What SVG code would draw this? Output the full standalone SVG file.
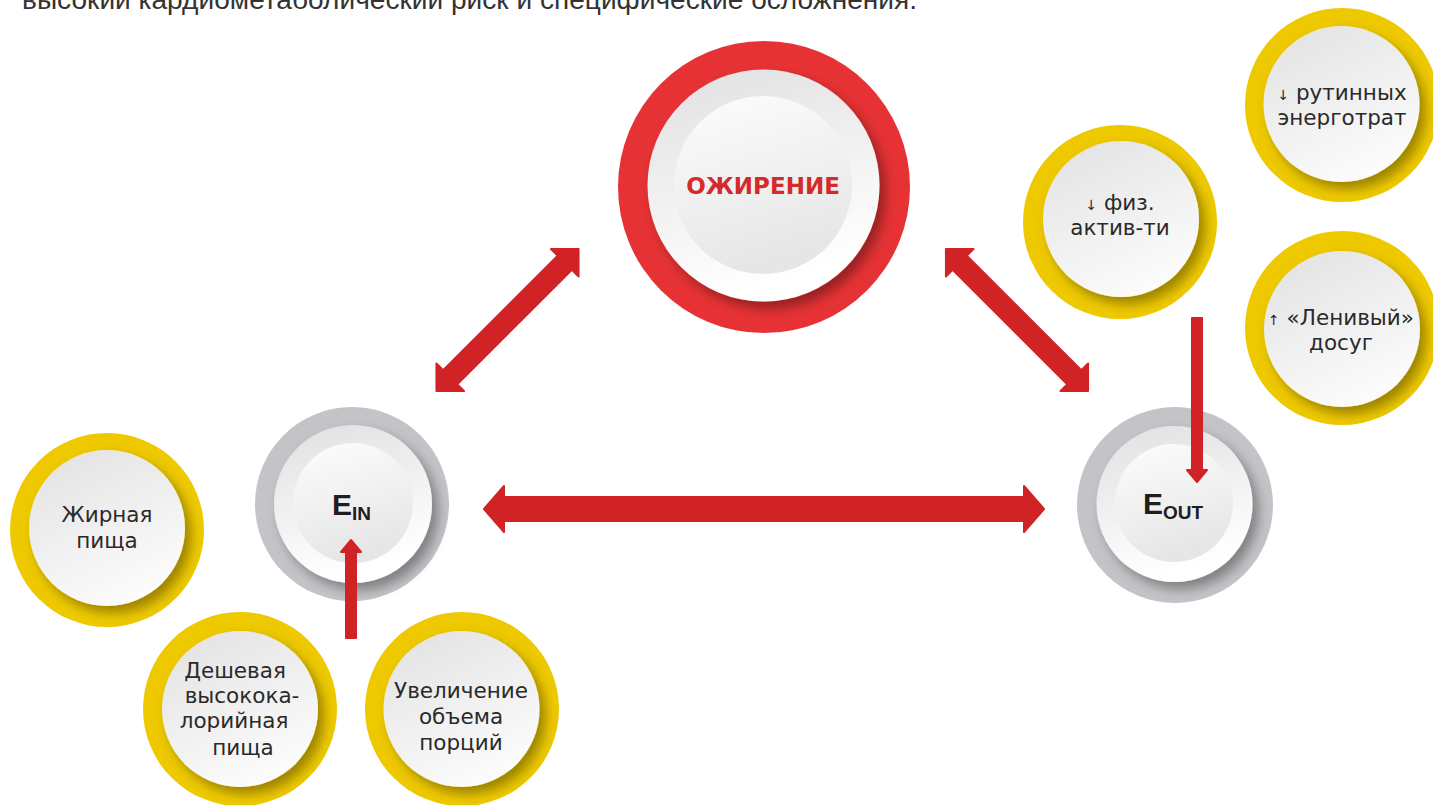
<svg xmlns="http://www.w3.org/2000/svg" width="1433" height="805" viewBox="0 0 1433 805">
<defs>
<style>
.lbl{font-family:"DejaVu Sans","Noto Sans",sans-serif;font-size:21.5px;fill:#2a2a2a;text-anchor:middle}
.sm{font-size:14px}
.arrow{fill:#d12326;stroke:#d12326;stroke-width:2;stroke-linejoin:round}
.yel{fill:#eec900}
.gray{fill:#c4c4c8}
.ebig{font-family:"Liberation Sans","DejaVu Sans",sans-serif;font-weight:bold;fill:#1e1e1e}
</style>
<linearGradient id="ring" x1="0" y1="0" x2="0.3" y2="1">
<stop offset="0" stop-color="#e0e0e0"/><stop offset="1" stop-color="#ffffff"/>
</linearGradient>
<linearGradient id="disc" x1="0" y1="0" x2="0.3" y2="1">
<stop offset="0" stop-color="#fdfdfd"/><stop offset="1" stop-color="#e6e6e6"/>
</linearGradient>
<linearGradient id="ydisc" x1="0.1" y1="0" x2="0.6" y2="1">
<stop offset="0" stop-color="#e2e2e2"/><stop offset="1" stop-color="#fcfcfc"/>
</linearGradient>
<filter id="sh" x="-30%" y="-30%" width="160%" height="160%">
<feDropShadow dx="6" dy="7" stdDeviation="6" flood-color="#000" flood-opacity="0.35"/>
</filter>
</defs>
<rect width="1433" height="805" fill="#ffffff"/>
<text x="22" y="9" font-family="Liberation Sans, Arial, sans-serif" font-size="28" fill="#333" textLength="895" lengthAdjust="spacingAndGlyphs">высокий кардиометаболический риск и специфические осложнения.</text>

<g id="obesity">
<circle cx="764" cy="187" r="146" fill="#e63234"/>
<circle cx="763.5" cy="185.5" r="116" fill="url(#ring)" filter="url(#sh)"/>
<circle cx="763" cy="185" r="89" fill="url(#disc)"/>
<text x="763" y="194" font-family="DejaVu Sans, sans-serif" font-weight="bold" font-size="23" fill="#d42a2a" text-anchor="middle">ОЖИРЕНИЕ</text>
</g>

<g id="ein">
<circle cx="352" cy="504" r="97" class="gray"/>
<circle cx="353" cy="504" r="79" fill="url(#ring)" filter="url(#sh)"/>
<circle cx="353" cy="503" r="60" fill="url(#disc)"/>
<text class="ebig" x="332" y="515" font-size="30">E<tspan font-size="19" dy="5">IN</tspan></text>
</g>

<g id="eout">
<circle cx="1175" cy="505" r="98" class="gray"/>
<circle cx="1174.5" cy="504" r="78" fill="url(#ring)" filter="url(#sh)"/>
<circle cx="1174" cy="503" r="59" fill="url(#disc)"/>
<text class="ebig" x="1143" y="514" font-size="30">E<tspan font-size="19" dy="5">OUT</tspan></text>
</g>

<g id="fatfood">
<circle cx="107" cy="530" r="97" class="yel"/>
<circle cx="107" cy="528" r="78" fill="url(#ydisc)" filter="url(#sh)"/>
<text class="lbl" x="107" y="522">Жирная</text>
<text class="lbl" x="107" y="548">пища</text>
</g>

<g id="cheapfood">
<circle cx="240" cy="709" r="97" class="yel"/>
<circle cx="240" cy="709" r="78" fill="url(#ydisc)" filter="url(#sh)"/>
<text class="lbl" x="235" y="678">Дешевая</text>
<text class="lbl" x="242" y="703">высокока-</text>
<text class="lbl" x="234" y="728">лорийная</text>
<text class="lbl" x="243" y="755">пища</text>
</g>

<g id="portions">
<circle cx="462" cy="709" r="97" class="yel"/>
<circle cx="461.5" cy="709" r="78" fill="url(#ydisc)" filter="url(#sh)"/>
<text class="lbl" x="461" y="698">Увеличение</text>
<text class="lbl" x="461" y="724">объема</text>
<text class="lbl" x="461" y="750">порций</text>
</g>

<g id="physact">
<circle cx="1120" cy="222" r="97" class="yel"/>
<circle cx="1121" cy="219" r="78" fill="url(#ydisc)" filter="url(#sh)"/>
<text class="lbl" x="1120" y="210"><tspan class="sm">↓</tspan> физ.</text>
<text class="lbl" x="1120" y="235">актив-ти</text>
</g>

<g id="routine">
<circle cx="1342" cy="105" r="97" class="yel"/>
<circle cx="1341.5" cy="104" r="78" fill="url(#ydisc)" filter="url(#sh)"/>
<text class="lbl" x="1342" y="100"><tspan class="sm">↓</tspan> рутинных</text>
<text class="lbl" x="1342" y="125">энерготрат</text>
</g>

<g id="leisure">
<circle cx="1342" cy="328" r="97" class="yel"/>
<circle cx="1342" cy="329" r="78" fill="url(#ydisc)" filter="url(#sh)"/>
<text class="lbl" x="1341" y="325"><tspan class="sm">↑</tspan> «Ленивый»</text>
<text class="lbl" x="1341" y="350">досуг</text>
</g>

<g id="connectors">
<polygon class="arrow" points="484,509 504,486 504,497 1024,497 1024,486 1044,509 1024,532 1024,521 504,521 504,532"/>
<polygon class="arrow" transform="translate(507.5,320) rotate(-45)" points="-100.5,0 -81,-19.5 -81,-10 81,-10 81,-19.5 100.5,0 81,19.5 81,10 -81,10 -81,19.5"/>
<polygon class="arrow" transform="translate(1017,320) rotate(45)" points="-100.5,0 -81,-19.5 -81,-10 81,-10 81,-19.5 100.5,0 81,19.5 81,10 -81,10 -81,19.5"/>
<polygon class="arrow" points="346,638 346,552 341,552 351,540 361,552 356,552 356,638"/>
<polygon class="arrow" points="1192,318 1202,318 1202,470 1207,470 1197,482 1187,470 1192,470"/>
</g>
</svg>
